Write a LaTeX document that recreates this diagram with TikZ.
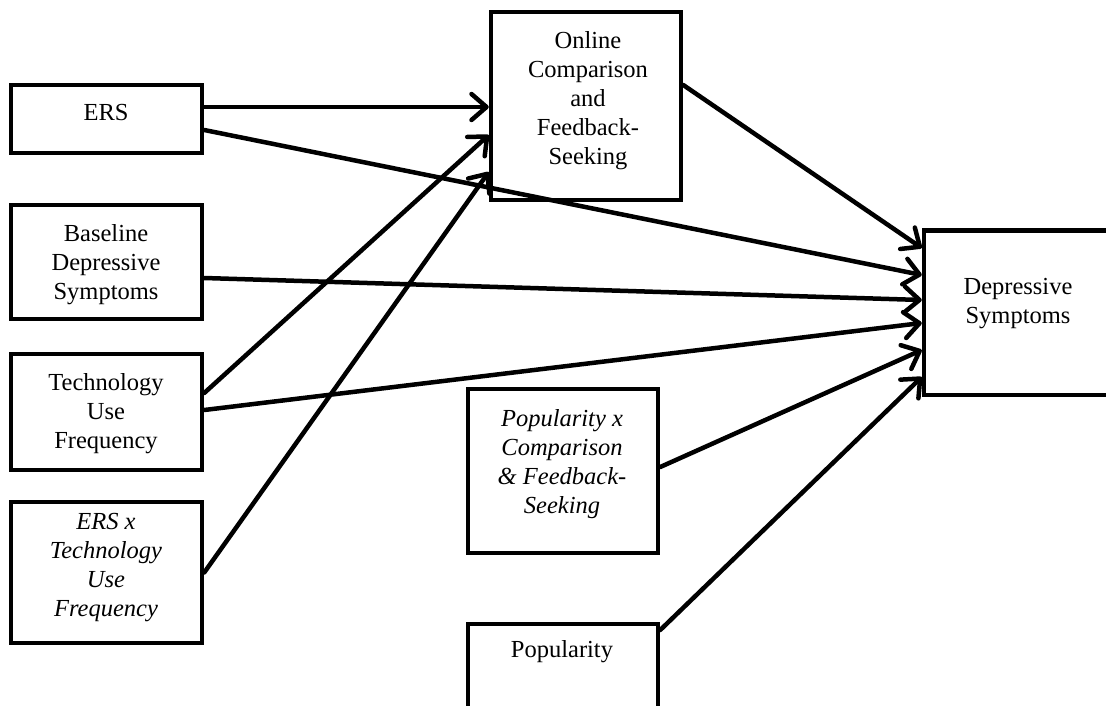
\documentclass[tikz,border=0pt]{standalone}
\usepackage{fontspec}
\setmainfont{Liberation Serif}
\usetikzlibrary{arrows.meta}
\begin{document}
\begin{tikzpicture}[x=1pt,y=-1pt,
  box/.style={draw=black, line width=4.5pt, inner sep=0pt, minimum width=191pt},
  txt/.style={align=center, inner sep=0pt, font=\fontsize{24.5}{29}\selectfont},
  itxt/.style={txt, font=\fontsize{24.5}{29}\selectfont\itshape},
  arr/.style={line width=4.5pt, line cap=round, -{Straight Barb[length=15pt,width=26pt,round]}}]
\useasboundingbox (0,0) rectangle (1106,706);
\fill[white] (0,0) rectangle (1106,706);
% boxes
\node[box, minimum height=68pt] (ers) at (106.5,119) {};
\node[box, minimum height=114pt] (base) at (106.5,262) {};
\node[box, minimum height=116pt] (tech) at (106.5,412) {};
\node[box, minimum height=141pt] (ersx) at (106.5,572.5) {};
\node[box, minimum width=190pt, minimum height=188pt] (online) at (586,106) {};
\node[box, minimum width=190pt, minimum height=164.5pt] (dep) at (1019,312.75) {};
\node[box, minimum width=190pt, minimum height=164pt] (popx) at (563,471) {};
\node[box, minimum width=190pt, minimum height=88pt] (pop) at (563,668) {};
% texts
\node[txt] (erst) at (106,113) {ERS};
\node[txt] (baset) at (106,265) {Baseline\\Depressive\\Symptoms};
\node[txt] (techt) at (106,414) {Technology\\Use\\Frequency};
\node[itxt] (ersxt) at (106,568) {ERS x\\Technology\\Use\\Frequency};
\node[txt] (onlinet) at (588,101) {Online\\Comparison\\and\\Feedback-\\Seeking};
\node[txt] (dept) at (1018,304) {Depressive\\Symptoms};
\node[itxt] (popxt) at (562,464) {Popularity x\\Comparison\\\& Feedback-\\Seeking};
\node[txt] (popt) at (562,652) {Popularity};
% connectors
\draw[arr] ([yshift=12pt]ers.east) -- ([yshift=-1pt]online.west);
\draw[arr] ([yshift=19pt]tech.east) -- ([yshift=-29pt]online.west);
\draw[arr] (ersx.east) -- ([yshift=-66pt]online.west);
\draw[arr] ([yshift=21pt]online.east) -- ([yshift=64.75pt]dep.west);
\draw[arr] ([yshift=-11pt]ers.east) -- ([yshift=37.75pt]dep.west);
\draw[arr] ([yshift=-16pt]base.east) -- ([yshift=12.75pt]dep.west);
\draw[arr] ([yshift=2pt]tech.east) -- ([yshift=-10.25pt]dep.west);
\draw[arr] ([yshift=4pt]popx.east) -- ([yshift=-37.25pt]dep.west);
\draw[arr] ([yshift=38pt]pop.east) -- ([yshift=-64.25pt]dep.west);
\end{tikzpicture}
\end{document}
